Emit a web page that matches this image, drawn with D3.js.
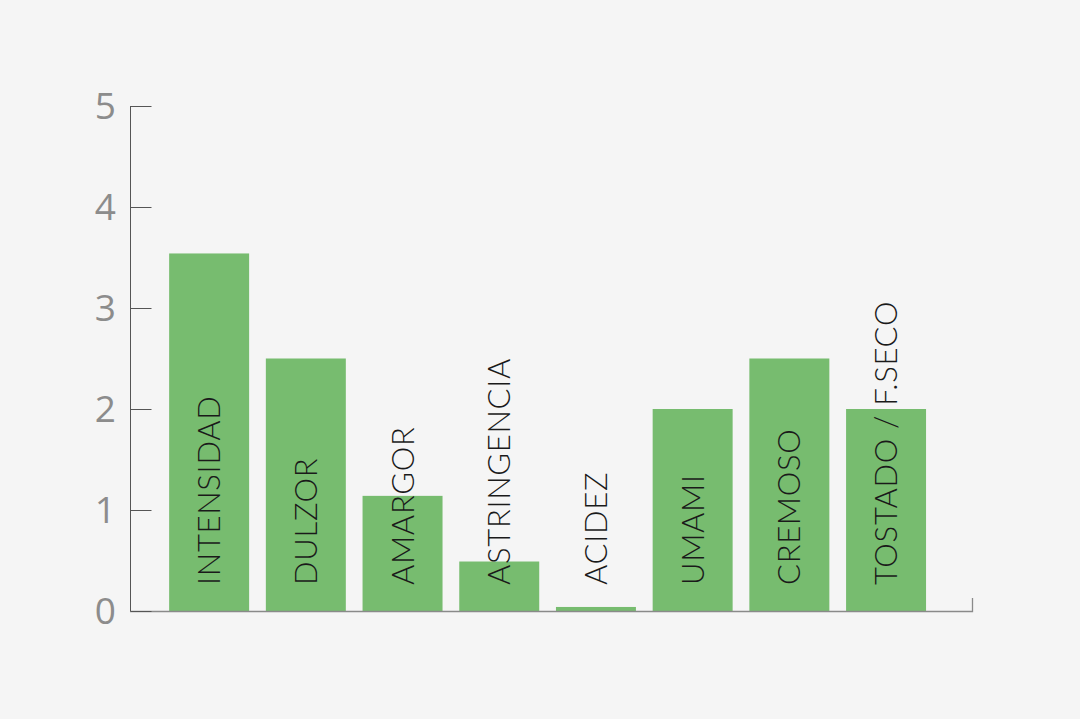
<!DOCTYPE html>
<html><head><meta charset="utf-8">
<script src="https://cdn.jsdelivr.net/npm/d3@7"></script>
<style>html,body{margin:0;padding:0;background:#f5f5f5;}svg{display:block;}</style>
</head><body>
<script>
const categories = ["INTENSIDAD","DULZOR","AMARGOR","ASTRINGENCIA","ACIDEZ","UMAMI","CREMOSO","TOSTADO / F.SECO"];
const values = [3.54, 2.5, 1.14, 0.49, 0.04, 2.0, 2.5, 2.0];
const yTicks = [0,1,2,3,4,5];

const W = 1080, H = 719;
const svg = d3.select("body").append("svg").attr("width", W).attr("height", H);
svg.append("rect").attr("width", W).attr("height", H).attr("fill", "#f5f5f5");

const x = d3.scaleBand().domain(categories).range([130, 972]).paddingInner(0.173).paddingOuter(0.44).align(0.46);
const y = d3.scaleLinear().domain([0,5]).range([611,106]);

// bars
svg.append("g").selectAll("rect").data(categories).join("rect")
  .attr("x", d => x(d)).attr("width", x.bandwidth())
  .attr("y", (d,i) => y(values[i])).attr("height", (d,i) => y(0) - y(values[i]))
  .attr("fill", "#77bc6f");

// x axis
const xa = svg.append("g").attr("transform", `translate(0,${y(0)})`)
  .call(d3.axisBottom(x).tickSize(0).tickFormat(""));
xa.select(".domain").attr("stroke", "#8a8a8a").attr("stroke-width", 1.3)
  .attr("d", "M130,0.5H972.5V-13");

// y axis
const ya = svg.append("g").attr("transform", "translate(130.5,0)")
  .call(d3.axisRight(y).tickValues(yTicks).tickSize(21).tickFormat(""));
ya.select(".domain").attr("stroke", "#555").attr("d", `M0,${y(5)}V${y(0)}`);
ya.selectAll(".tick line").attr("stroke", "#555");
svg.append("g").selectAll("text").data(yTicks).join("text")
  .attr("x", 116).attr("y", d => y(d)).attr("dy", "0.36em")
  .attr("text-anchor", "end")
  .attr("font-family", "Open Sans, sans-serif").attr("font-size", 37)
  .attr("fill", "#8c8c8c").text(d => d);

// category labels (vertical)
svg.append("g").selectAll("text").data(categories).join("text")
  .attr("transform", d => `translate(${x(d) + x.bandwidth()/2 + 11},585) rotate(-90)`)
  .attr("text-anchor", "start")
  .attr("font-family", "Lato, sans-serif").attr("font-weight", 300)
  .attr("font-size", 31).attr("letter-spacing", 0.7)
  .attr("fill", "#1a1a1a").text(d => d);
</script>
</body></html>
